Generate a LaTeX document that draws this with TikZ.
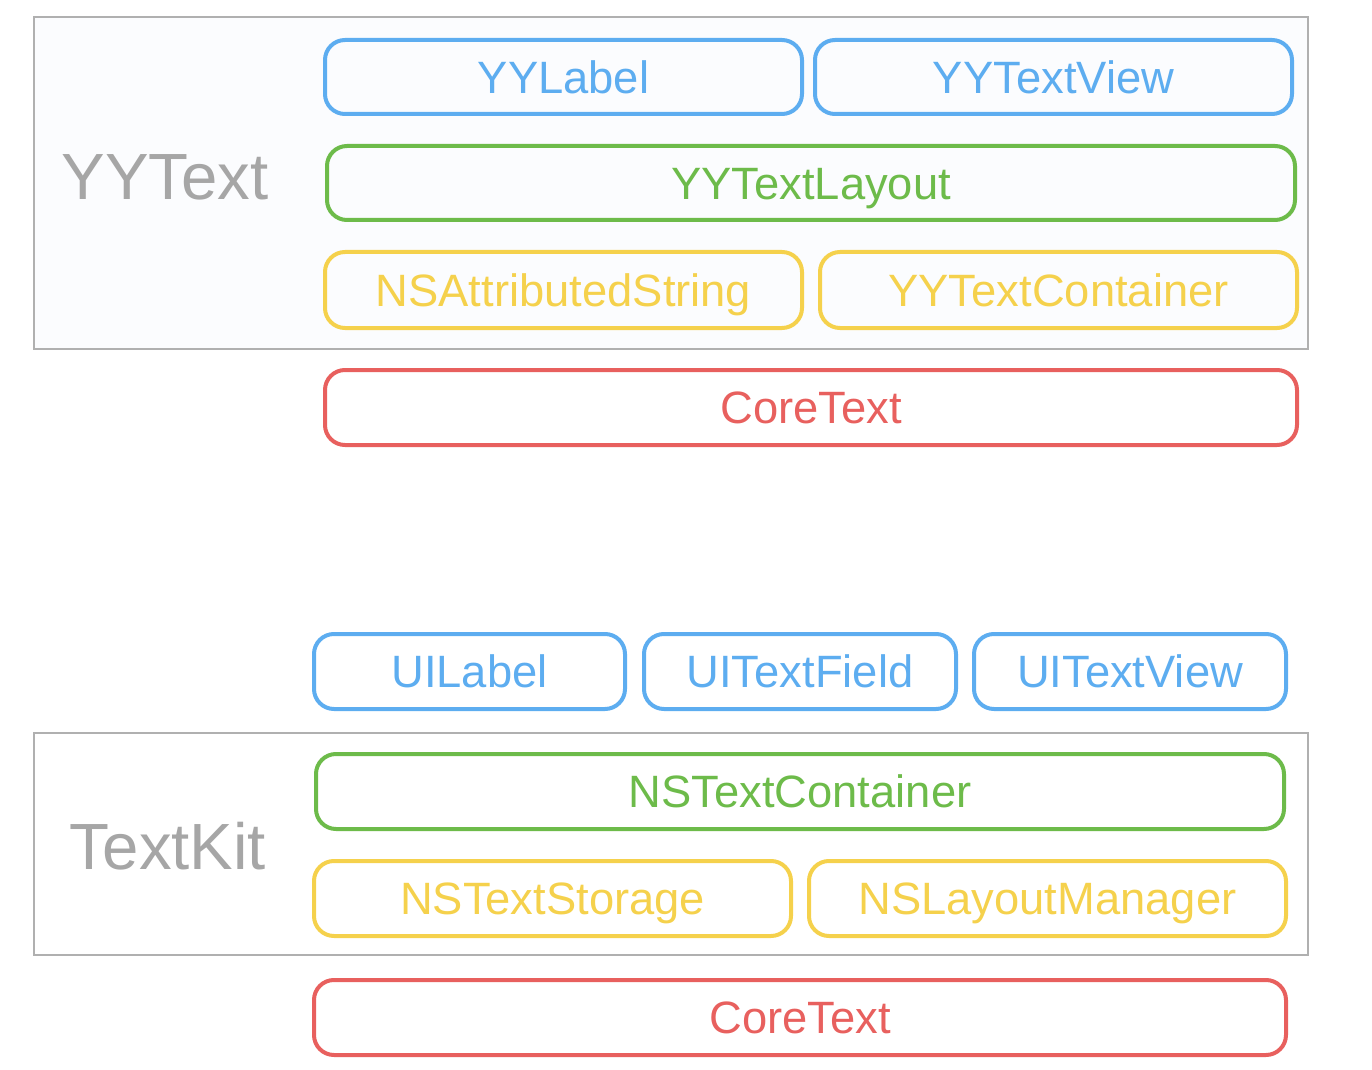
\documentclass[tikz,border=0pt]{standalone}
\usepackage{fontspec}
\setmainfont{Liberation Sans}
\usetikzlibrary{fit}
\definecolor{cblue}{HTML}{5DADF0}
\definecolor{cgreen}{HTML}{6DBB4A}
\definecolor{cyellow}{HTML}{F5D14C}
\definecolor{cred}{HTML}{E8605E}
\definecolor{cgraytext}{HTML}{A6A6A6}
\definecolor{cframe}{HTML}{B0B0B0}
\definecolor{cpanel}{HTML}{FBFCFE}
\begin{document}
\begin{tikzpicture}[x=0.75pt,y=-0.75pt,
  box/.style 2 args={draw=#1, line width=3pt, rounded corners=15pt, inner sep=0pt,
    label={[text=#1, inner sep=0pt, text height=24.3pt, text depth=0pt,
      font=\fontsize{34}{36}\selectfont]center:#2}},
  frame/.style={draw=cframe, line width=1.5pt, inner sep=0pt},
  biglabel/.style={text=cgraytext, inner sep=0pt, text height=35pt, text depth=0pt,
    font=\fontsize{49}{52}\selectfont}]
\useasboundingbox (0,0) rectangle (1372,1070);
% YYText panel
\node[frame, fill=cpanel, fit={(34,17) (1308,349)}] (yypanel) {};
\node[biglabel] (yytitle) at (165,176) {YYText};
\node[box={cblue}{YYLabel}, fit={(325,40) (802,114)}] (yylabel) {};
\node[box={cblue}{YYTextView}, fit={(815,40) (1292,114)}] (yytextview) {};
\node[box={cgreen}{YYTextLayout}, fit={(327,146) (1295,220)}] (yylayout) {};
\node[box={cyellow}{NSAttributedString}, fit={(325,252) (802,328)}] (nsattr) {};
\node[box={cyellow}{YYTextContainer}, fit={(820,252) (1297,328)}] (yycontainer) {};
\node[box={cred}{CoreText}, fit={(325,370) (1297,445)}] (coretext1) {};
% TextKit
\node[box={cblue}{UILabel}, fit={(314,634) (625,709)}] (uilabel) {};
\node[box={cblue}{UITextField}, fit={(644,634) (956,709)}] (uitextfield) {};
\node[box={cblue}{UITextView}, fit={(974,634) (1286,709)}] (uitextview) {};
\node[frame, fit={(34,733) (1308,955)}] (tkpanel) {};
\node[biglabel] (tktitle) at (168,846) {TextKit};
\node[box={cgreen}{NSTextContainer}, fit={(316,754) (1284,829)}] (nscontainer) {};
\node[box={cyellow}{NSTextStorage}, fit={(314,861) (791,936)}] (nsstorage) {};
\node[box={cyellow}{NSLayoutManager}, fit={(809,861) (1286,936)}] (nslayout) {};
\node[box={cred}{CoreText}, fit={(314,980) (1286,1055)}] (coretext2) {};
\end{tikzpicture}
\end{document}
